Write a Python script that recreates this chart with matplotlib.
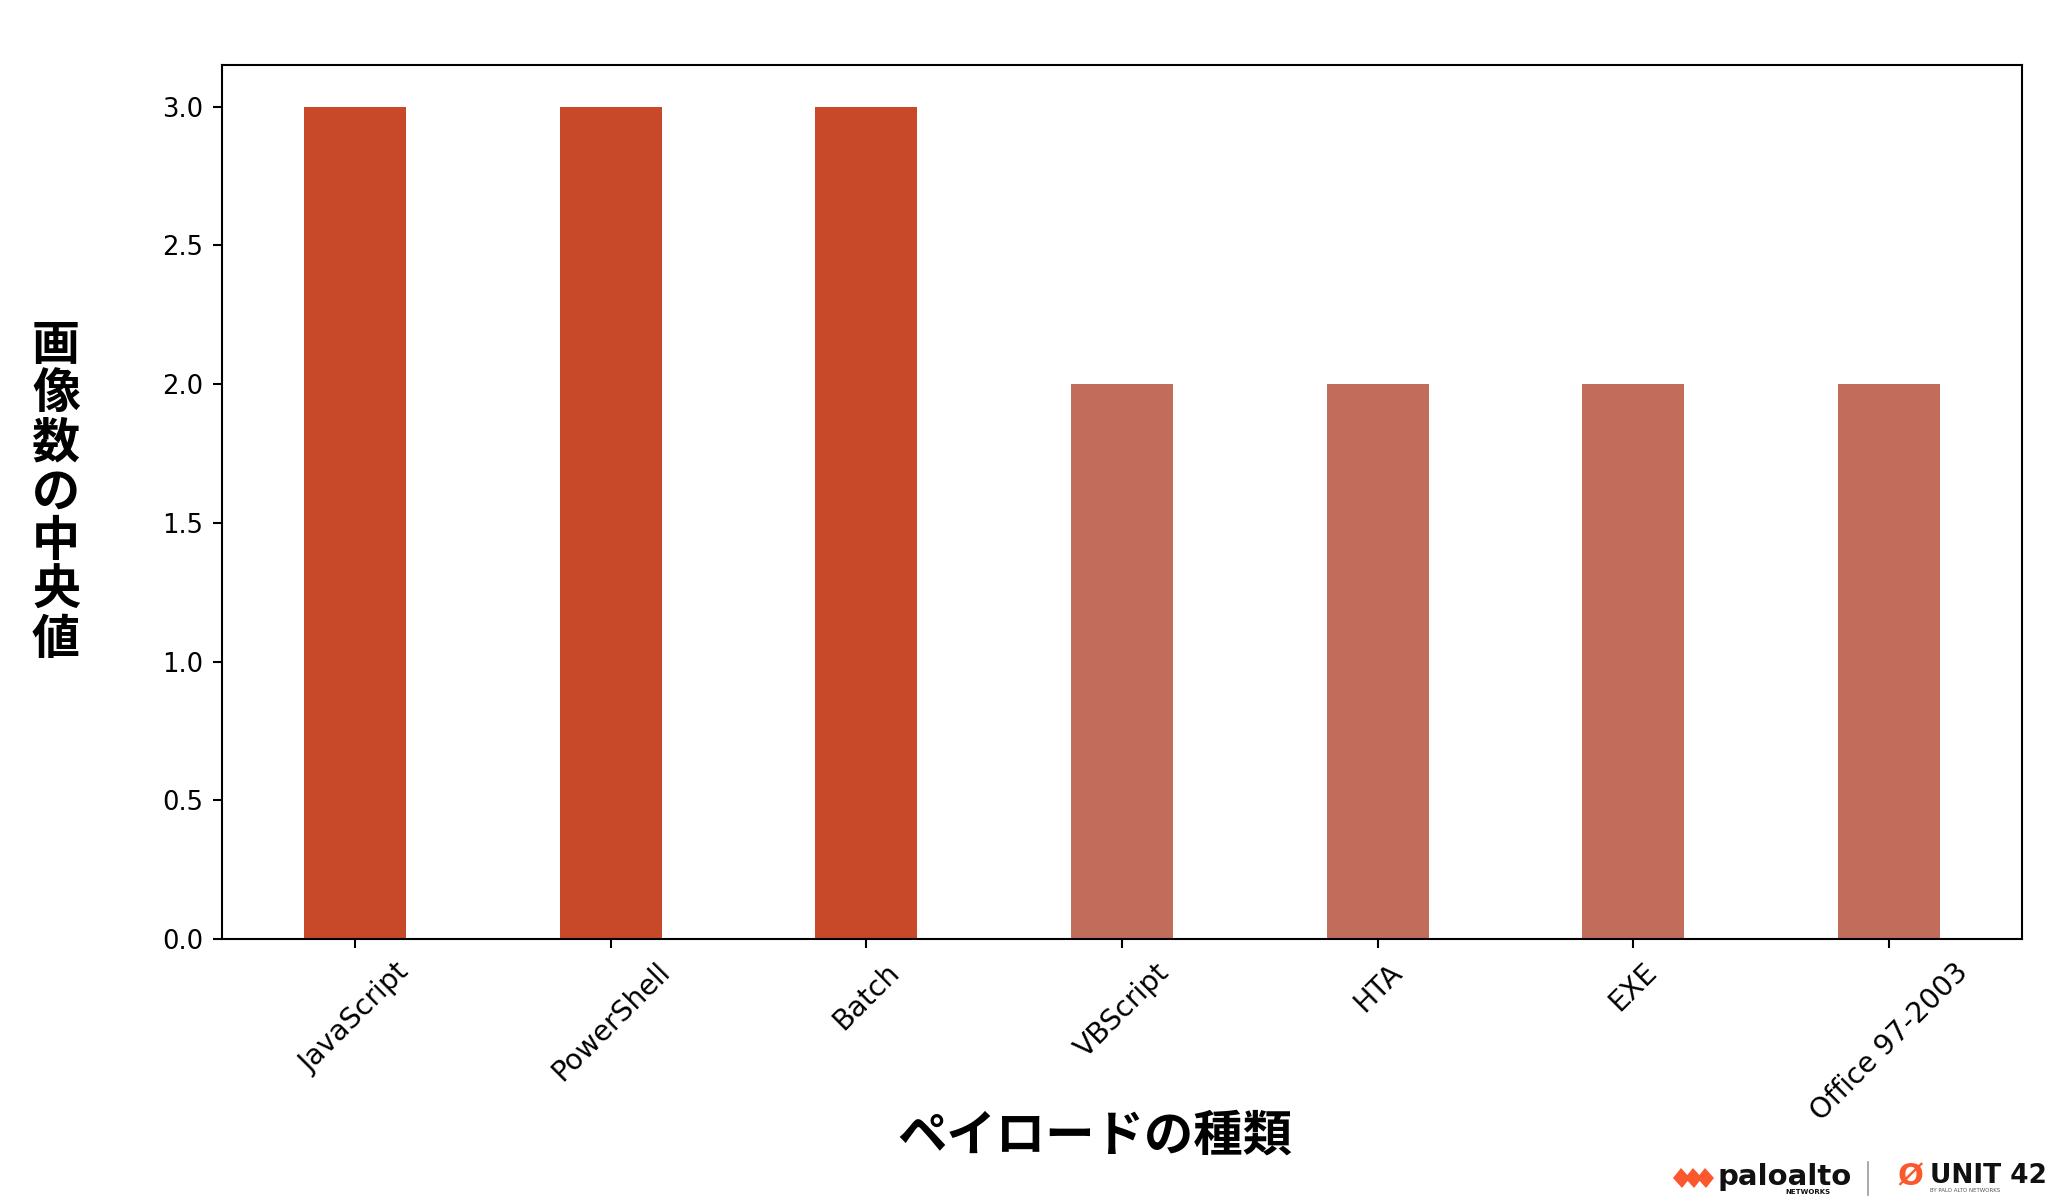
import matplotlib
matplotlib.use("Agg")
import matplotlib.pyplot as plt
from matplotlib.patches import Polygon

categories = ["JavaScript", "PowerShell", "Batch", "VBScript", "HTA", "EXE", "Office 97-2003"]
values = [3, 3, 3, 2, 2, 2, 2]
colors = ["#C8492A", "#C8492A", "#C8492A", "#C26C5C", "#C26C5C", "#C26C5C", "#C26C5C"]
xlabel = "ペイロードの種類"
ylabel = "画像数の中央値"

plt.rcParams['font.family'] = ['DejaVu Sans']
fig = plt.figure(figsize=(10.24, 6.02), dpi=200)
ax = fig.add_axes([222/2048, 1 - 939/1204, (2022-222)/2048, (939-65)/1204])

x = list(range(len(categories)))
ax.bar(x, values, width=0.4, color=colors)
ax.set_xticks(x)
ax.set_xticklabels(categories, rotation=45, fontsize=10.2)
ax.set_yticks([0.0, 0.5, 1.0, 1.5, 2.0, 2.5, 3.0])
ax.set_yticklabels(["0.0", "0.5", "1.0", "1.5", "2.0", "2.5", "3.0"], fontsize=9.3)
ax.tick_params(length=3.3, width=0.75)
for s in ax.spines.values():
    s.set_linewidth(0.75)

cjk = ['Noto Sans CJK JP', 'DejaVu Sans']
fig.text(1095/2048, 1 - 1136/1204, xlabel, ha='center', va='center',
         fontsize=17.8, fontweight='bold', family=cjk)
fig.text(56/2048, 1 - 492/1204, "\n".join(ylabel), ha='center', va='center',
         fontsize=17.3, fontweight='bold', family=cjk, linespacing=1.0)

# Logo area (approximate)
orange = "#FA582D"
W, H = 2048, 1204
def fx(px): return px / W
def fy(py): return 1 - py / H
for dx in (0, 12, 24):
    poly = Polygon([(fx(1673+dx), fy(1178)), (fx(1681+dx), fy(1168)), (fx(1690+dx), fy(1178)),
                    (fx(1682+dx), fy(1188))], closed=True, transform=fig.transFigure,
                   facecolor=orange, edgecolor='none')
    fig.patches.append(poly)
fig.text(fx(1718), fy(1177), "paloalto", ha='left', va='center', fontsize=10.5,
         fontweight='bold', color='#111111', family=['DejaVu Sans'])
fig.text(fx(1830), fy(1192), "NETWORKS", ha='right', va='center', fontsize=2.5,
         fontweight='bold', color='#111111')
fig.add_artist(plt.Line2D([fx(1868), fx(1868)], [fy(1162), fy(1195)], transform=fig.transFigure,
                          color='#999999', linewidth=0.6))
fig.text(fx(1910), fy(1177), "Ø", ha='center', va='center', fontsize=11,
         fontweight='bold', color=orange)
fig.text(fx(1930), fy(1176), "UNIT 42", ha='left', va='center', fontsize=9.5,
         fontweight='bold', color='#111111')
fig.text(fx(1930), fy(1191), "BY PALO ALTO NETWORKS", ha='left', va='center', fontsize=2,
         color='#555555')

fig.savefig("out.png", dpi=200, facecolor='white')
